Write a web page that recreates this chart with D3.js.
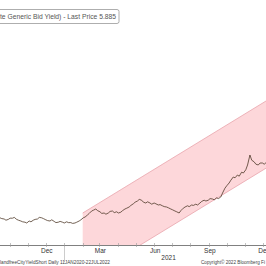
<!DOCTYPE html>
<head>
<meta charset="utf-8">
<script src="https://cdn.jsdelivr.net/npm/d3@7"></script>
<style>
body { margin:0; background:#fff; }
svg { display:block; font-family: "Liberation Sans", Arial, sans-serif; }
</style>
</head>
<body>
<div id="chart"></div>
<script>
// price series (semi-weekly)
let dates = ["2020-09-15","2020-09-18","2020-09-22","2020-09-25","2020-09-29","2020-10-02","2020-10-06","2020-10-09",
  "2020-10-13","2020-10-16","2020-10-20","2020-10-23","2020-10-27","2020-10-30","2020-11-03","2020-11-06",
  "2020-11-10","2020-11-13","2020-11-17","2020-11-20","2020-11-24","2020-11-27","2020-12-01","2020-12-04",
  "2020-12-08","2020-12-11","2020-12-15","2020-12-18","2020-12-22","2020-12-25","2020-12-29","2021-01-01",
  "2021-01-05","2021-01-08","2021-01-12","2021-01-15","2021-01-19","2021-01-22","2021-01-26","2021-01-29",
  "2021-02-02","2021-02-05","2021-02-09","2021-02-12","2021-02-16","2021-02-19","2021-02-23","2021-02-26",
  "2021-03-02","2021-03-05","2021-03-09","2021-03-12","2021-03-16","2021-03-19","2021-03-23","2021-03-26",
  "2021-03-30","2021-04-02","2021-04-06","2021-04-09","2021-04-13","2021-04-16","2021-04-20","2021-04-23",
  "2021-04-27","2021-04-30","2021-05-04","2021-05-07","2021-05-11","2021-05-14","2021-05-18","2021-05-21",
  "2021-05-25","2021-05-28","2021-06-01","2021-06-04","2021-06-08","2021-06-11","2021-06-15","2021-06-18",
  "2021-06-22","2021-06-25","2021-06-29","2021-07-02","2021-07-06","2021-07-09","2021-07-13","2021-07-16",
  "2021-07-20","2021-07-23","2021-07-27","2021-07-30","2021-08-03","2021-08-06","2021-08-10","2021-08-13",
  "2021-08-17","2021-08-20","2021-08-24","2021-08-27","2021-08-31","2021-09-03","2021-09-07","2021-09-10",
  "2021-09-14","2021-09-17","2021-09-21","2021-09-24","2021-09-28","2021-10-01","2021-10-05","2021-10-08",
  "2021-10-12","2021-10-15","2021-10-19","2021-10-22","2021-10-26","2021-10-29","2021-11-02","2021-11-05",
  "2021-11-09","2021-11-12","2021-11-16","2021-11-19","2021-11-23","2021-11-26","2021-11-30","2021-12-03",
  "2021-12-07"];
let yields = [3.18,3.16,3.15,3.12,3.14,3.17,3.17,3.19,
  3.14,3.12,3.10,3.08,3.07,3.05,3.10,3.08,
  3.12,3.14,3.15,3.19,3.18,3.16,3.13,3.11,
  3.10,3.13,3.09,3.06,3.07,3.09,3.07,3.05,
  3.08,3.06,3.06,3.04,3.05,3.07,3.10,3.13,
  3.18,3.20,3.25,3.29,3.35,3.37,3.40,3.36,
  3.33,3.29,3.30,3.27,3.30,3.34,3.35,3.31,
  3.33,3.30,3.32,3.36,3.40,3.42,3.45,3.49,
  3.53,3.57,3.60,3.64,3.62,3.57,3.55,3.58,
  3.55,3.52,3.55,3.53,3.50,3.51,3.48,3.46,
  3.45,3.43,3.40,3.38,3.35,3.33,3.30,3.36,
  3.42,3.45,3.48,3.46,3.50,3.49,3.52,3.50,
  3.55,3.59,3.62,3.60,3.62,3.66,3.65,3.63,
  3.68,3.66,3.70,3.80,3.92,3.98,4.05,4.12,
  4.20,4.18,4.25,4.22,4.32,4.30,4.38,4.50,
  4.75,4.62,4.58,4.52,4.50,4.55,4.55,4.52,
  4.57];

// trend channel end points
let channelDates = ["2021-02-01", "2021-12-06"];
let channelUpper = [3.30, 6.10];
let channelLower = [1.62, 4.42];

// axis labels
let quarterTicks = ["2020-12-01","2021-03-01","2021-06-01","2021-09-01","2021-12-01"];
let yearLabels = [{label: "2021", from: "2021-01-01", to: "2021-12-31"}];
let legendText = "te Generic Bid Yield) - Last Price 5.885";
let footLeft = "landfreeCityYieldShort  Daily 11JAN2020-22JUL2022";
let footRight = "Copyright\u00a9 2022 Bloomberg Fi";

let W = 266, H = 266, axisY = 245;
let parse = d3.timeParse("%Y-%m-%d");

let svg = d3.select("#chart").append("svg")
    .attr("width", W)
    .attr("height", H);

svg.append("rect").attr("width", W).attr("height", H).attr("fill", "#fff");

let x = d3.scaleTime()
    .domain([parse("2020-09-15"), parse("2021-12-06")])
    .range([0, W]);
let y = d3.scaleLinear()
    .domain([2.5, 8.625])
    .range([axisY, 0]);

svg.append("clipPath").attr("id", "plot")
  .append("rect").attr("width", W).attr("height", axisY);

let plot = svg.append("g").attr("clip-path", "url(#plot)");

// channel
let cd = channelDates.map(parse);
let poly = [[x(cd[0]), y(channelUpper[0])], [x(cd[1]), y(channelUpper[1])],
            [x(cd[1]), y(channelLower[1])], [x(cd[0]), y(channelLower[0])]];
plot.append("path")
    .attr("d", "M" + poly.join("L") + "Z")
    .attr("fill", "#fdd7da");
[channelUpper, channelLower].forEach(function(s) {
  plot.append("line")
      .attr("x1", x(cd[0])).attr("y1", y(s[0]))
      .attr("x2", x(cd[1])).attr("y2", y(s[1]))
      .attr("stroke", "#e9a5ac").attr("stroke-width", 0.8);
});

// price line
let data = dates.map(function(d, i) { return {date: parse(d), v: yields[i]}; });
plot.append("path")
    .datum(data)
    .attr("fill", "none")
    .attr("stroke", "#4f3a2a")
    .attr("stroke-width", 0.8)
    .attr("d", d3.line().x(function(d) { return x(d.date); }).y(function(d) { return y(d.v); }));

// x axis
svg.append("line")
    .attr("x1", 0).attr("x2", W).attr("y1", axisY + 0.5).attr("y2", axisY + 0.5)
    .attr("stroke", "#808080").attr("stroke-width", 1);

let months = d3.timeMonth.range(x.domain()[0], x.domain()[1]);
svg.selectAll(".mtick").data(months).enter().append("line")
    .attr("x1", function(d) { return Math.round(x(d)) + 0.5; })
    .attr("x2", function(d) { return Math.round(x(d)) + 0.5; })
    .attr("y1", axisY - 2).attr("y2", axisY + 2)
    .attr("stroke", "#999").attr("stroke-width", 0.6);

svg.selectAll(".qlab").data(quarterTicks).enter().append("text")
    .attr("x", function(d) { return x(parse(d)) + 1; })
    .attr("y", axisY + 8)
    .attr("text-anchor", "middle")
    .attr("font-size", 6.5)
    .attr("fill", "#333")
    .text(function(d) { return d3.timeFormat("%b")(parse(d)); });

yearLabels.forEach(function(yl) {
  let a = parse(yl.from), b = parse(yl.to);
  svg.append("line")
      .attr("x1", Math.round(x(a)) + 0.5).attr("x2", Math.round(x(a)) + 0.5)
      .attr("y1", axisY + 2).attr("y2", axisY + 17)
      .attr("stroke", "#aaa").attr("stroke-width", 0.6);
  svg.append("text")
      .attr("x", (x(a) + x(b)) / 2 - 4)
      .attr("y", axisY + 15)
      .attr("text-anchor", "middle")
      .attr("font-size", 6.5)
      .attr("fill", "#333")
      .text(yl.label);
});

// footer
svg.append("text")
    .attr("x", 0).attr("y", 264)
    .attr("font-size", 4.5).attr("fill", "#444")
    .attr("textLength", 110).attr("lengthAdjust", "spacingAndGlyphs")
    .text(footLeft);
svg.append("text")
    .attr("x", 201).attr("y", 264)
    .attr("font-size", 4.5).attr("fill", "#444")
    .attr("textLength", 64).attr("lengthAdjust", "spacingAndGlyphs")
    .text(footRight);

// legend box
svg.append("rect")
    .attr("x", -4).attr("y", 9.5).attr("width", 123).attr("height", 14)
    .attr("rx", 2)
    .attr("fill", "#fff").attr("stroke", "#999").attr("stroke-width", 0.8);
svg.append("text")
    .attr("x", 0).attr("y", 19)
    .attr("font-size", 6.5).attr("fill", "#555")
    .attr("textLength", 116).attr("lengthAdjust", "spacingAndGlyphs")
    .text(legendText);
</script>
</body>
